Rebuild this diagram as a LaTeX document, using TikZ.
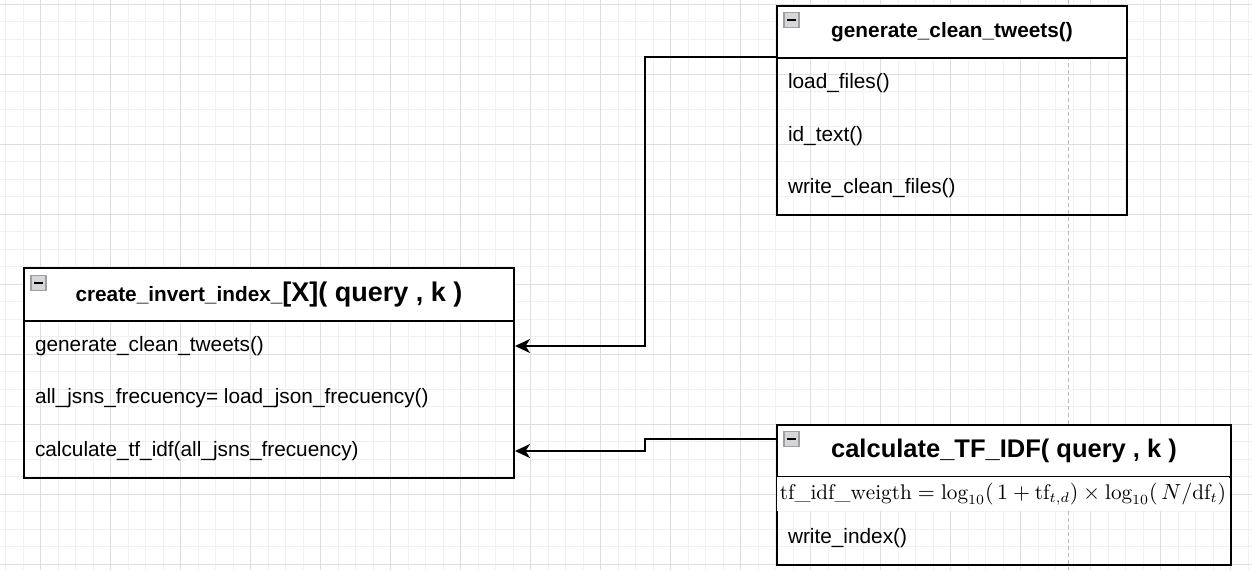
\documentclass[tikz,border=0pt]{standalone}
\usepackage{fontspec}
\newfontfamily\arialfont{Liberation Sans}
\usetikzlibrary{arrows.meta,positioning}

\definecolor{gridminor}{RGB}{241,241,241}
\definecolor{gridmajor}{RGB}{222,222,222}
\definecolor{iconfill}{RGB}{214,214,218}

\newcommand{\itemfont}{\arialfont\fontsize{10.4}{12}\selectfont}
\newcommand{\titlefont}{\arialfont\bfseries\fontsize{10.4}{12}\selectfont}
\newcommand{\bigtitlefont}{\arialfont\bfseries\fontsize{12.75}{15}\selectfont}

\begin{document}
\begin{tikzpicture}[x=0.5pt, y=-0.5pt, line width = 1pt]
\tikzstyle{head}=[rectangle, draw, fill=white, anchor=north west, inner sep=0pt, line width=1pt];
\tikzstyle{body}=[rectangle, draw, anchor=north west, inner sep=0pt, line width=1pt];
\tikzstyle{item}=[anchor=west, inner sep=0pt, font=\itemfont];
\tikzstyle{minusicon}=[rectangle, draw=gray!75, fill=iconfill, line width=0.6pt, minimum size=7.5pt, inner sep=0pt,
  path picture={\draw[black, line width=1.3pt] ([xshift=1.6pt]path picture bounding box.west) -- ([xshift=-1.6pt]path picture bounding box.east);}];
\tikzstyle{link}=[line width=1pt, -{Stealth[length=7.5pt, width=7pt, inset=2.2pt]}];

\useasboundingbox[fill=white] (0,0) rectangle (1252,570);

% background grid
\foreach \i in {0,...,71} \draw[gridminor, line width=0.5pt] ({5.7+17.5*\i},0) -- ({5.7+17.5*\i},570);
\foreach \j in {0,...,32} \draw[gridminor, line width=0.5pt] (0,{4.3+17.5*\j}) -- (1252,{4.3+17.5*\j});
\foreach \i in {0,...,17} \draw[gridmajor, line width=0.5pt] ({40.7+70*\i},0) -- ({40.7+70*\i},570);
\foreach \j in {0,...,8} \draw[gridmajor, line width=0.5pt] (0,{4.3+70*\j}) -- (1252,{4.3+70*\j});
\draw[gray!55, line width=0.5pt, dash pattern=on 2pt off 1.5pt] (1068,0) -- (1068,570);

% generate_clean_tweets()
\draw(776,57) node[body, minimum width=175pt, minimum height=78.5pt] (gctBody) {};
\draw(776,5) node[head, minimum width=175pt, minimum height=26pt, font=\titlefont] (gctHead) {generate\_clean\_tweets()};
\draw(791.5,20) node[minusicon] (gctIcon) {};
\draw(787,83) node[item] (gctA) {load\_files()};
\draw(787,136) node[item] (gctB) {id\_text()};
\draw(787,188) node[item] (gctC) {write\_clean\_files()};

% create_invert_index_[X]( query , k )
\draw(23,320) node[body, minimum width=245pt, minimum height=78.5pt] (ciiBody) {};
\draw(23,267) node[head, minimum width=245pt, minimum height=26.5pt] (ciiHead)
  {\titlefont create\_invert\_index\_{\arialfont\bfseries\fontsize{13.5}{15}\selectfont[X]( query , k )}};
\draw(38.5,283) node[minusicon] (ciiIcon) {};
\draw(34,346) node[item] (ciiA) {generate\_clean\_tweets()};
\draw(34,398) node[item] (ciiB) {all\_jsns\_frecuency= load\_json\_frecuency()};
\draw(34,451) node[item] (ciiC) {calculate\_tf\_idf(all\_jsns\_frecuency)};

% calculate_TF_IDF( query , k )
\draw(776,476) node[body, minimum width=227pt, minimum height=44pt] (tfBody) {};
\draw(776,424) node[head, minimum width=227pt, minimum height=26pt, font=\bigtitlefont] (tfHead) {calculate\_TF\_IDF( query , k )};
\draw(791.5,439) node[minusicon] (tfIcon) {};
\draw(1003,494) node[fill=white, minimum width=226pt, minimum height=17pt, inner sep=0pt, font=\fontsize{10.6}{13}\selectfont] (tfFormula)
  {$\mathrm{tf\_idf\_weigth} = \log_{10}(\,1+\mathrm{tf}_{t,d}) \times \log_{10}(\,N/\mathrm{df}_t)$};
\draw(787,538) node[item] (tfA) {write\_index()};

% calls
\draw[link] (gctBody.north west) -- ++(-131,0) |- (ciiBody.east |- ciiA);
\draw[link] ([yshift=6pt]tfHead.west) -- ++(-131,0) |- (ciiBody.east |- ciiC);
\end{tikzpicture}
\end{document}
